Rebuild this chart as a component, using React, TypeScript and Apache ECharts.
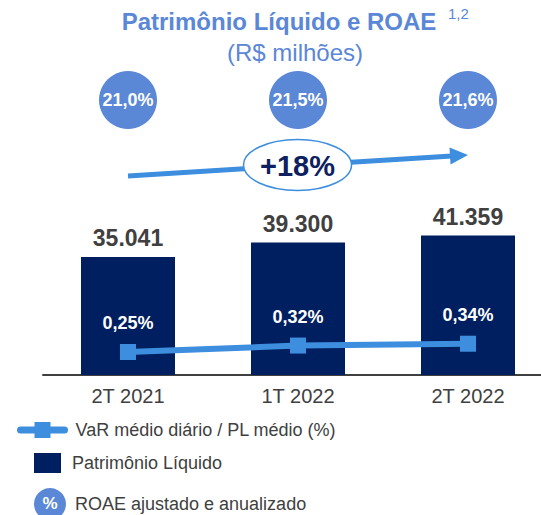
import React, { useEffect, useRef } from "react";
import * as echarts from "echarts";

const categories = ["2T 2021", "1T 2022", "2T 2022"];
const patrimonio = [35041, 39300, 41359];
const varPl = [0.25, 0.32, 0.34];
const roae = [21.0, 21.5, 21.6];
const growthLabel = "+18%";

const FONT = "'Liberation Sans', Arial, sans-serif";
const GRAY = "#404040";
const NAVY = "#001F60";
const BLUE_LINE = "#3D8EDE";
const BLUE_CIRCLE = "#5B87D7";

const fmtThousands = (v: number) =>
  String(Math.round(v)).replace(/\B(?=(\d{3})+(?!\d))/g, ".");

export default function App() {
  const ref = useRef<HTMLDivElement>(null);
  useEffect(() => {
    document.body.style.margin = "0";
    const chart = echarts.init(ref.current!, undefined, { renderer: "svg" });
    const ROW = 0.816; // vertical position of the ROAE bubbles (layout)
    chart.setOption({
      animation: false,
      textStyle: { fontFamily: FONT },
      grid: { left: 43, top: 38, right: 0, height: 337 },
      xAxis: {
        type: "category",
        data: categories,
        axisLine: { lineStyle: { color: GRAY, width: 2 } },
        axisTick: { show: false },
        axisLabel: { color: GRAY, fontSize: 20, margin: 11, fontFamily: FONT },
      },
      yAxis: [
        { type: "value", min: 0, max: 100000, show: false },
        { type: "value", min: 0, max: 3.663, show: false },
        { type: "value", min: 0, max: 1, show: false },
      ],
      legend: [
        {
          data: ["VaR médio diário / PL médio (%)"],
          left: 17,
          top: 421,
          padding: 0,
          itemWidth: 44,
          itemHeight: 20,
          lineStyle: { width: 7, cap: "round" },
          textStyle: { color: GRAY, fontSize: 18, fontFamily: FONT, padding: [0, 0, 0, 6] },
          selectedMode: false,
        },
        {
          data: ["Patrimônio Líquido"],
          left: 34,
          top: 453,
          padding: 0,
          icon: "rect",
          itemWidth: 27,
          itemHeight: 20,
          textStyle: { color: GRAY, fontSize: 18, fontFamily: FONT, padding: [0, 0, 2, 6] },
          selectedMode: false,
        },
        {
          data: ["ROAE ajustado e anualizado"],
          left: 34,
          top: 488,
          padding: 0,
          icon: "circle",
          itemWidth: 32,
          itemHeight: 32,
          textStyle: { color: GRAY, fontSize: 18, fontFamily: FONT, padding: [0, 0, 8, 4] },
          selectedMode: false,
        },
      ],
      series: [
        {
          name: "Patrimônio Líquido",
          type: "bar",
          data: patrimonio,
          yAxisIndex: 0,
          barWidth: 94,
          itemStyle: { color: NAVY },
          label: {
            show: true,
            position: "top",
            distance: 7,
            color: GRAY,
            fontSize: 23,
            fontWeight: "bold",
            fontFamily: FONT,
            formatter: (p: any) => fmtThousands(p.value),
          },
        },
        {
          name: "VaR médio diário / PL médio (%)",
          type: "line",
          data: varPl,
          yAxisIndex: 1,
          symbol: "rect",
          symbolSize: 16,
          lineStyle: { color: BLUE_LINE, width: 6 },
          itemStyle: { color: BLUE_LINE },
          label: {
            show: true,
            position: "top",
            distance: 12,
            color: "#fff",
            fontSize: 18,
            fontWeight: "bold",
            fontFamily: FONT,
            formatter: (p: any) => p.value.toFixed(2).replace(".", ",") + "%",
          },
        },
        {
          name: "ROAE ajustado e anualizado",
          type: "scatter",
          yAxisIndex: 2,
          data: roae.map((v, i) => ({ value: [categories[i], ROW], roae: v })),
          symbol: "circle",
          symbolSize: 58,
          itemStyle: { color: BLUE_CIRCLE, opacity: 1 },
          label: {
            show: true,
            position: "inside",
            color: "#fff",
            fontSize: 18,
            fontWeight: "bold",
            fontFamily: FONT,
            formatter: (p: any) => p.data.roae.toFixed(1).replace(".", ",") + "%",
          },
        },
      ],
      graphic: [
        {
          type: "text",
          x: 279,
          y: 21,
          style: {
            text: "Patrimônio Líquido e ROAE",
            font: `bold 24px ${FONT}`,
            fill: BLUE_CIRCLE,
            textAlign: "center",
            textVerticalAlign: "middle",
          },
        },
        {
          type: "text",
          x: 448,
          y: 13,
          style: {
            text: "1,2",
            font: `15px ${FONT}`,
            fill: BLUE_CIRCLE,
            textAlign: "left",
            textVerticalAlign: "middle",
          },
        },
        {
          type: "text",
          x: 295,
          y: 52,
          style: {
            text: "(R$ milhões)",
            font: `24px ${FONT}`,
            fill: BLUE_CIRCLE,
            textAlign: "center",
            textVerticalAlign: "middle",
          },
        },
        {
          type: "line",
          shape: { x1: 128, y1: 176, x2: 452, y2: 156 },
          style: { stroke: BLUE_LINE, lineWidth: 5 },
        },
        {
          type: "polygon",
          shape: { points: [[468, 155], [449.5, 147.4], [450.5, 164.6]] },
          style: { fill: BLUE_LINE },
        },
        {
          type: "ellipse",
          shape: { cx: 297.5, cy: 165, rx: 54, ry: 25.5 },
          style: { fill: "#fff", stroke: BLUE_LINE, lineWidth: 1.5 },
        },
        {
          type: "text",
          x: 297.5,
          y: 166,
          style: {
            text: growthLabel,
            font: `bold 29px ${FONT}`,
            fill: "#0D2160",
            textAlign: "center",
            textVerticalAlign: "middle",
          },
        },
        {
          type: "text",
          x: 50,
          y: 503,
          z: 100,
          style: {
            text: "%",
            font: `bold 17px ${FONT}`,
            fill: "#fff",
            textAlign: "center",
            textVerticalAlign: "middle",
          },
        },
      ],
    });
    return () => chart.dispose();
  }, []);
  return (
    <div style={{ width: 541, height: 515, overflow: "hidden", position: "relative" }}>
      <div ref={ref} style={{ width: 553, height: 515 }} />
    </div>
  );
}
